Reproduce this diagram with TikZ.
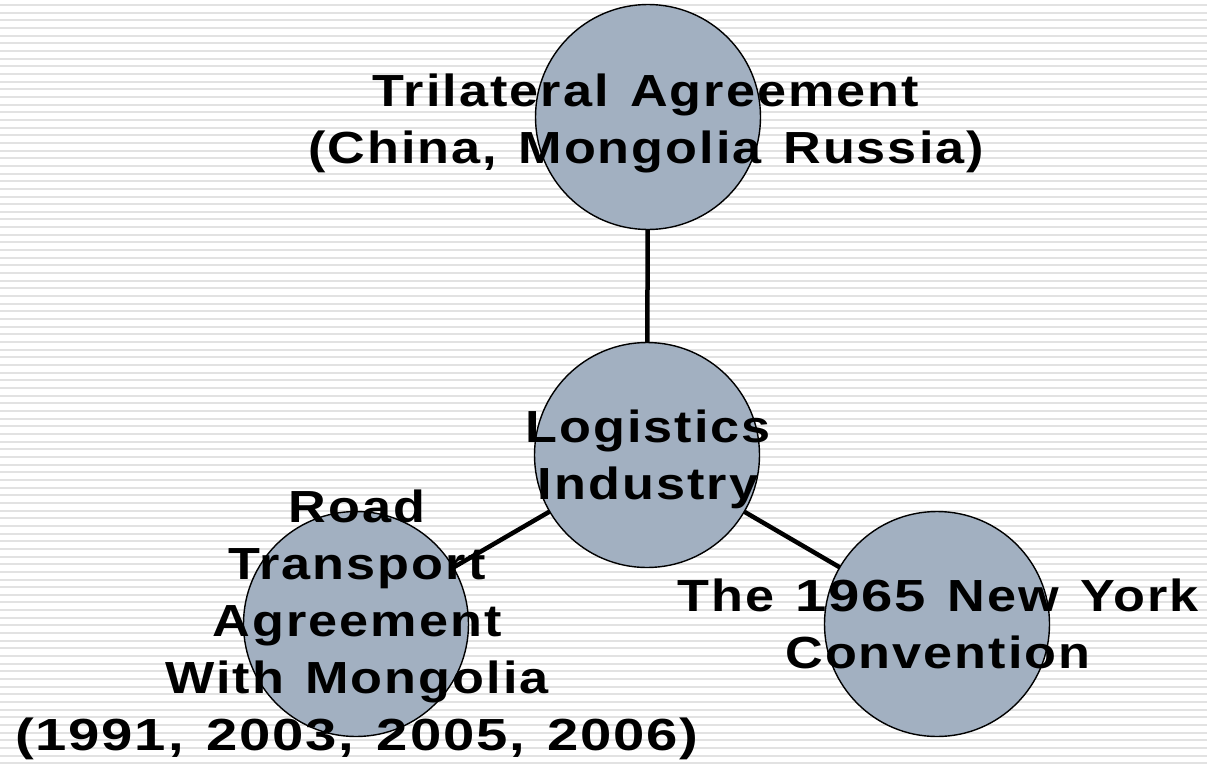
\documentclass[tikz,border=0pt]{standalone}
\usepackage{fontspec}
\setmainfont{Liberation Sans}
\newfontfamily\labelfont[FakeStretch=1.16, LetterSpace=4.5, WordSpace=1.3]{Liberation Sans}
\newfontfamily\numfont[FakeStretch=1.25, LetterSpace=4, WordSpace=1.3]{Liberation Sans}
\pgfdeclarelayer{background}
\pgfdeclarelayer{foreground}
\pgfsetlayers{background,main,foreground}
\definecolor{bubble}{HTML}{A2B0C1}
\definecolor{stripe}{HTML}{E2E2E2}
\tikzset{
  bubble/.style={circle, fill=bubble, minimum size=225pt, inner sep=0pt},
  rim/.style={draw=black, line width=1.4pt},
  link/.style={draw=black, line width=4.5pt},
  caption/.style={align=center, inner sep=0pt,
    font=\labelfont\bfseries\fontsize{45}{57}\selectfont},
}
\begin{document}
\begin{tikzpicture}[x=1pt, y=-1pt]
  \useasboundingbox (0,0) rectangle (1207,766);
  % striped backdrop
  \begin{pgfonlayer}{background}
    \fill[white] (0,0) rectangle (1207,766);
    \foreach \k in {0,...,99} {
      \draw[stripe, line width=2pt] (0,{5+7.66*\k}) -- (1207,{5+7.66*\k});
    }
  \end{pgfonlayer}

  % bubbles
  \node[bubble] (treaty) at (648,117) {};
  \node[bubble] (hub)    at (647,455) {};
  \node[bubble] (road)   at (356,624) {};
  \node[bubble] (ny)     at (937,624) {};

  % spokes from the hub
  \begin{pgfonlayer}{background}
    \path[link] (hub) -- (treaty);
    \path[link] (hub) -- (road);
    \path[link] (hub) -- (ny);
  \end{pgfonlayer}

  % labels
  \node[caption] (treatytext) at (646,123) {Trilateral Agreement\\(China, Mongolia Russia)};
  \node[caption] (hubtext)    at (648,459) {Logistics\\Industry};
  \node[caption] (roadtext)   at (357,625) {Road\\Transport\\Agreement\\With Mongolia\\{\numfont\bfseries(1991, 2003, 2005, 2006)}};
  \node[caption] (nytext)     at (938,624) {The {\numfont\bfseries 1965} New York\\Convention};

  % outlines over the labels
  \begin{pgfonlayer}{foreground}
    \foreach \n in {treaty,hub,road,ny} {
      \draw[rim] (\n.center) circle[radius=112.5pt];
    }
  \end{pgfonlayer}
\end{tikzpicture}
\end{document}
